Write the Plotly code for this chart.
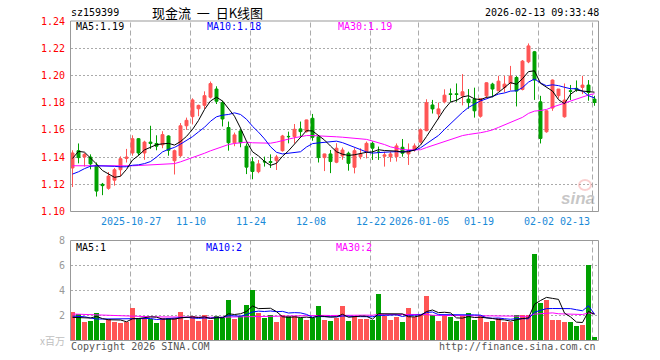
import plotly.graph_objects as go

# ---------------- data ----------------
dates = ([f"2025-10-{d:02d}" for d in (13, 14, 15, 16, 17, 20, 21, 22, 23, 24, 27, 28, 29, 30, 31)]
         + [f"2025-11-{d:02d}" for d in (3, 4, 5, 6, 7, 10, 11, 12, 13, 14, 17, 18, 19, 20, 21, 24, 25, 26, 27, 28)]
         + [f"2025-12-{d:02d}" for d in (1, 2, 3, 4, 5, 8, 9, 10, 11, 12, 15, 16, 17, 18, 19, 22, 23, 24, 25, 26, 29, 30, 31)]
         + [f"2026-01-{d:02d}" for d in (5, 6, 7, 8, 9, 12, 13, 14, 15, 16, 19, 20, 21, 22, 23, 26, 27, 28, 29, 30)]
         + [f"2026-02-{d:02d}" for d in (2, 3, 4, 5, 6, 9, 10, 11, 12, 13)])

open_ = [1.132, 1.1447, 1.140, 1.140, 1.134, 1.120, 1.117, 1.123, 1.1307, 1.139,
         1.143, 1.1535, 1.143, 1.151, 1.150, 1.149, 1.1555, 1.1373, 1.141, 1.163,
         1.1697, 1.1755, 1.178, 1.184, 1.190, 1.180, 1.1617, 1.1505, 1.1592, 1.148,
         1.1365, 1.1293, 1.1367, 1.1367, 1.1374, 1.1447, 1.1552, 1.155, 1.1607, 1.1587,
         1.1685, 1.155, 1.1396, 1.1423, 1.1362, 1.1408, 1.1428, 1.1325, 1.1403, 1.144,
         1.1501, 1.1437, 1.1406, 1.1403, 1.1403, 1.1472, 1.1423, 1.1452, 1.151, 1.1594,
         1.1783, 1.1717, 1.1806, 1.1865, 1.1865, 1.185, 1.1826, 1.1826, 1.170, 1.185,
         1.1936, 1.1887, 1.1912, 1.1941, 1.1985, 1.1897, 1.210, 1.2174, 1.1806, 1.1586,
         1.176, 1.1851, 1.1696, 1.1887, 1.1905, 1.1912, 1.1929, 1.1826]
high = [1.145, 1.150, 1.143, 1.142, 1.136, 1.121, 1.129, 1.132, 1.1405, 1.146,
        1.156, 1.154, 1.152, 1.163, 1.156, 1.159, 1.156, 1.1455, 1.165, 1.169,
        1.1832, 1.1785, 1.1883, 1.1955, 1.192, 1.1815, 1.1661, 1.158, 1.1607, 1.150,
        1.140, 1.1379, 1.1403, 1.142, 1.1416, 1.1563, 1.1587, 1.1643, 1.1661, 1.1675,
        1.1717, 1.1555, 1.1425, 1.1452, 1.1502, 1.147, 1.144, 1.1465, 1.1465, 1.1514,
        1.1514, 1.1477, 1.144, 1.144, 1.150, 1.1533, 1.150, 1.150, 1.161, 1.1825,
        1.182, 1.180, 1.1898, 1.1904, 1.1941, 1.201, 1.190, 1.191, 1.1834, 1.195,
        1.1946, 1.1997, 1.1997, 1.207, 1.1995, 1.2113, 1.2235, 1.218, 1.185, 1.1745,
        1.197, 1.190, 1.1941, 1.193, 1.1963, 1.1997, 1.1966, 1.185]
low = [1.118, 1.1354, 1.133, 1.131, 1.111, 1.112, 1.116, 1.119, 1.1258, 1.136,
       1.141, 1.141, 1.138, 1.146, 1.145, 1.1465, 1.141, 1.1272, 1.140, 1.160,
       1.164, 1.170, 1.1753, 1.183, 1.179, 1.1625, 1.1447, 1.148, 1.1472, 1.1275,
       1.1237, 1.1281, 1.133, 1.132, 1.1305, 1.144, 1.1501, 1.150, 1.155, 1.158,
       1.152, 1.136, 1.1297, 1.1282, 1.1355, 1.138, 1.130, 1.128, 1.1384, 1.139,
       1.1379, 1.1379, 1.133, 1.1365, 1.1367, 1.1403, 1.1342, 1.144, 1.150, 1.159,
       1.172, 1.1678, 1.1795, 1.1806, 1.1806, 1.178, 1.1755, 1.169, 1.169, 1.183,
       1.184, 1.1885, 1.1875, 1.189, 1.1772, 1.189, 1.209, 1.182, 1.150, 1.1579,
       1.174, 1.183, 1.169, 1.1819, 1.188, 1.1863, 1.1814, 1.1777]
close = [1.143, 1.1396, 1.142, 1.135, 1.115, 1.119, 1.126, 1.1307, 1.1388, 1.140,
         1.1535, 1.143, 1.151, 1.150, 1.148, 1.1565, 1.145, 1.1447, 1.163, 1.167,
         1.182, 1.178, 1.1851, 1.194, 1.181, 1.168, 1.1505, 1.1563, 1.1506, 1.1326,
         1.1294, 1.135, 1.1365, 1.136, 1.1401, 1.1555, 1.155, 1.1604, 1.1587, 1.1673,
         1.1545, 1.1396, 1.1423, 1.1367, 1.1465, 1.1452, 1.1354, 1.1447, 1.1423, 1.1501,
         1.1465, 1.1435, 1.1416, 1.1423, 1.1482, 1.1428, 1.1447, 1.1482, 1.160, 1.180,
         1.1754, 1.1754, 1.1855, 1.186, 1.186, 1.188, 1.180, 1.174, 1.183, 1.1946,
         1.190, 1.1958, 1.1936, 1.1995, 1.1885, 1.2105, 1.2217, 1.1966, 1.1537, 1.174,
         1.1966, 1.190, 1.1819, 1.1883, 1.1895, 1.1929, 1.1875, 1.1801]

ma5 = [1.1390, 1.1442, 1.1436, 1.1395, 1.1349, 1.1301, 1.1274, 1.1251, 1.1259, 1.1309,
       1.1378, 1.1412, 1.1453, 1.1475, 1.1491, 1.1497, 1.1501, 1.1488, 1.1514, 1.1552,
       1.1603, 1.1669, 1.1750, 1.1812, 1.1840, 1.1812, 1.1757, 1.1700, 1.1613, 1.1516,
       1.1439, 1.1408, 1.1368, 1.1339, 1.1354, 1.1406, 1.1446, 1.1494, 1.1539, 1.1594,
       1.1592, 1.1561, 1.1525, 1.1481, 1.1439, 1.1421, 1.1412, 1.1417, 1.1428, 1.1435,
       1.1438, 1.1454, 1.1448, 1.1448, 1.1444, 1.1437, 1.1439, 1.1452, 1.1488, 1.1551,
       1.1617, 1.1678, 1.1753, 1.1805, 1.1817, 1.1842, 1.1851, 1.1828, 1.1822, 1.1839,
       1.1843, 1.1875, 1.1914, 1.1947, 1.1935, 1.1976, 1.2028, 1.2034, 1.1942, 1.1913,
       1.1885, 1.1822, 1.1792, 1.1862, 1.1893, 1.1885, 1.1880, 1.1877]
ma10 = [1.1275, 1.1292, 1.1315, 1.1333, 1.1336, 1.1336, 1.1335, 1.1332, 1.1328, 1.1329,
        1.1340, 1.1343, 1.1352, 1.1367, 1.1400, 1.1438, 1.1457, 1.1471, 1.1495, 1.1522,
        1.1550, 1.1585, 1.1619, 1.1663, 1.1696, 1.1708, 1.1713, 1.1725, 1.1713, 1.1678,
        1.1626, 1.1583, 1.1534, 1.1476, 1.1435, 1.1423, 1.1427, 1.1431, 1.1439, 1.1474,
        1.1499, 1.1504, 1.1509, 1.1510, 1.1517, 1.1506, 1.1487, 1.1471, 1.1455, 1.1437,
        1.1429, 1.1433, 1.1433, 1.1438, 1.1440, 1.1437, 1.1447, 1.1450, 1.1468, 1.1498,
        1.1527, 1.1559, 1.1603, 1.1646, 1.1684, 1.1729, 1.1765, 1.1790, 1.1813, 1.1828,
        1.1843, 1.1863, 1.1871, 1.1885, 1.1887, 1.1910, 1.1951, 1.1974, 1.1945, 1.1924,
        1.1931, 1.1925, 1.1913, 1.1902, 1.1903, 1.1885, 1.1851, 1.1835]
ma30 = [1.1336, 1.1336, 1.1335, 1.1334, 1.1333, 1.1332, 1.1332, 1.1332, 1.1334, 1.1335,
        1.1336, 1.1338, 1.1340, 1.1342, 1.1344, 1.1345, 1.1347, 1.1352, 1.1365, 1.1380,
        1.1395, 1.1410, 1.1428, 1.1446, 1.1462, 1.1478, 1.1492, 1.1500, 1.1506, 1.1510,
        1.1505, 1.1504, 1.1502, 1.1502, 1.1510, 1.1523, 1.1532, 1.1542, 1.1549, 1.1558,
        1.1558, 1.1557, 1.1554, 1.1550, 1.1549, 1.1546, 1.1542, 1.1542, 1.1535, 1.1530,
        1.1518, 1.1506, 1.1492, 1.1475, 1.1464, 1.1455, 1.1453, 1.1451, 1.1454, 1.1470,
        1.1485, 1.1498, 1.1515, 1.1531, 1.1547, 1.1558, 1.1566, 1.1570, 1.1579, 1.1588,
        1.1600, 1.1618, 1.1635, 1.1656, 1.1670, 1.1692, 1.1721, 1.1738, 1.1742, 1.1750,
        1.1767, 1.1782, 1.1796, 1.1811, 1.1825, 1.1841, 1.1856, 1.1866]

volume = [2.28, 2.13, 1.47, 1.55, 2.20, 1.39, 1.71, 1.47, 1.42, 1.50,
          2.60, 1.80, 1.80, 1.74, 1.39, 1.80, 1.80, 1.80, 2.28, 1.63,
          1.95, 1.55, 2.03, 1.63, 1.95, 1.87, 3.24, 1.71, 1.95, 2.84,
          4.04, 2.20, 1.79, 2.03, 1.47, 2.03, 1.95, 1.95, 1.79, 1.63,
          1.79, 2.76, 1.63, 1.55, 1.79, 2.76, 1.55, 1.95, 1.71, 1.71,
          1.63, 3.72, 1.95, 1.63, 1.87, 1.47, 2.60, 1.87, 2.12, 3.56,
          2.03, 1.55, 2.03, 1.87, 1.55, 1.95, 2.20, 1.63, 1.95, 1.47,
          1.55, 1.79, 1.47, 1.47, 2.03, 2.03, 2.03, 6.93, 3.00, 3.24,
          1.63, 1.63, 1.47, 1.47, 1.15, 1.23, 6.05, 0.27]
vma5 = [1.85, 1.85, 1.80, 1.80, 1.93, 1.75, 1.66, 1.66, 1.64, 1.50,
        1.74, 1.76, 1.82, 1.89, 1.87, 1.71, 1.71, 1.71, 1.81, 1.86,
        1.89, 1.84, 1.89, 1.76, 1.82, 1.81, 2.14, 2.08, 2.14, 2.32,
        2.76, 2.55, 2.56, 2.58, 2.31, 1.90, 1.85, 1.89, 1.84, 1.87,
        1.82, 1.98, 1.92, 1.87, 1.90, 2.10, 1.86, 1.92, 1.95, 1.94,
        1.71, 2.14, 2.14, 2.13, 2.16, 2.13, 1.90, 1.89, 1.99, 2.32,
        2.44, 2.23, 2.26, 2.21, 1.81, 1.79, 1.92, 1.84, 1.86, 1.84,
        1.76, 1.68, 1.65, 1.55, 1.66, 1.76, 1.81, 2.90, 3.20, 3.45,
        3.37, 3.29, 2.19, 1.89, 1.47, 1.44, 2.33, 2.09]
vma10 = [1.95, 1.95, 1.90, 1.80, 1.72, 1.72, 1.72, 1.72, 1.72, 1.71,
         1.74, 1.71, 1.74, 1.76, 1.68, 1.72, 1.73, 1.77, 1.85, 1.86,
         1.80, 1.77, 1.80, 1.79, 1.84, 1.85, 1.99, 1.98, 1.95, 2.07,
         2.28, 2.35, 2.32, 2.36, 2.31, 2.33, 2.20, 2.23, 2.21, 2.09,
         1.86, 1.92, 1.90, 1.86, 1.89, 1.96, 1.92, 1.92, 1.91, 1.92,
         1.90, 2.00, 2.03, 2.04, 2.05, 1.92, 2.02, 2.02, 2.06, 2.24,
         2.28, 2.07, 2.07, 2.10, 2.07, 2.11, 2.07, 2.05, 2.03, 1.82,
         1.78, 1.80, 1.74, 1.70, 1.75, 1.76, 1.74, 2.27, 2.38, 2.55,
         2.56, 2.55, 2.55, 2.55, 2.46, 2.38, 2.78, 2.11]
vma30 = [2.12, 2.10, 2.08, 2.05, 2.02, 2.00, 1.98, 1.96, 1.95, 1.94,
         1.93, 1.92, 1.91, 1.90, 1.89, 1.88, 1.88, 1.87, 1.87, 1.87,
         1.86, 1.86, 1.86, 1.86, 1.86, 1.87, 1.87, 1.87, 1.88, 1.88,
         1.94, 1.94, 1.95, 1.97, 1.95, 1.97, 1.98, 1.99, 2.00, 2.01,
         1.98, 2.01, 2.01, 2.00, 2.01, 2.05, 2.04, 2.04, 2.02, 2.03,
         2.02, 2.09, 2.09, 2.09, 2.08, 2.07, 2.05, 2.05, 2.06, 2.08,
         2.02, 1.99, 2.00, 2.00, 2.00, 2.00, 2.01, 2.00, 2.00, 2.00,
         1.99, 1.95, 1.95, 1.95, 1.95, 1.93, 1.95, 2.11, 2.16, 2.21,
         2.21, 2.14, 2.12, 2.12, 2.09, 2.08, 2.20, 2.15]

price_ticks = [1.10, 1.12, 1.14, 1.16, 1.18, 1.20, 1.22, 1.24]
price_tick_text = ["1.10", "1.12", "1.14", "1.16", "1.18", "1.20", "1.22", "1.24"]
vol_ticks = [2, 4, 6, 8]
vol_tick_text = ["2", "4", "6", "8"]
x_tick_dates = ["2025-10-27", "2025-11-10", "2025-11-24", "2025-12-08", "2025-12-22",
                "2026-01-05", "2026-01-19", "2026-02-02", "2026-02-13"]
x_tick_text = ["2025-10-27", "11-10", "11-24", "12-08", "12-22",
               "2026-01-05", "01-19", "02-02", "02-13"]

# ---------------- styling ----------------
W, H = 660, 360
RED = "#ff5555"
GREEN = "#00a000"
BLUE_TXT = "#1a8ad8"
GRID = "#aaaaaa"
BORDER = "#999999"
MONO = "DejaVu Sans Mono"

X0, X1 = 70.5, 598.5          # plot-area pixel edges (left/right)
P_TOP, P_BOT = 21.0, 211.5    # price panel
V_TOP, V_BOT = 240.5, 340.5   # volume panel


def px(x):
    return x / W


def py(y):
    return 1 - y / H


n = len(dates)
xr = [-0.333, n - 0.333]

fig = go.Figure()

fig.add_trace(go.Candlestick(
    x=dates, open=open_, high=high, low=low, close=close,
    increasing=dict(line=dict(color=RED, width=1), fillcolor=RED),
    decreasing=dict(line=dict(color=GREEN, width=1), fillcolor=GREEN),
    whiskerwidth=0, hoverinfo="skip", xaxis="x", yaxis="y", showlegend=False))

for arr, col in ((ma30, "#ff00ff"), (ma10, "#0000ff"), (ma5, "#000000")):
    fig.add_trace(go.Scatter(x=dates, y=arr, mode="lines", line=dict(color=col, width=1),
                             hoverinfo="skip", xaxis="x", yaxis="y", showlegend=False))

vol_colors = [RED if c >= o else GREEN for o, c in zip(open_, close)]
fig.add_trace(go.Bar(x=dates, y=volume, marker=dict(color=vol_colors, line=dict(width=0)),
                     width=0.8, hoverinfo="skip", xaxis="x2", yaxis="y2", showlegend=False))
for arr, col in ((vma30, "#ff00ff"), (vma10, "#0000ff"), (vma5, "#000000")):
    fig.add_trace(go.Scatter(x=dates, y=arr, mode="lines", line=dict(color=col, width=1),
                             hoverinfo="skip", xaxis="x2", yaxis="y2", showlegend=False))

xcommon = dict(type="category", range=xr, showticklabels=False, showgrid=False,
               zeroline=False, showline=False, ticks="", fixedrange=True,
               domain=[px(X0), px(X1)])
fig.update_layout(
    width=W, height=H, margin=dict(l=0, r=0, t=0, b=0),
    paper_bgcolor="white", plot_bgcolor="white",
    font=dict(family=MONO, size=10, color="#000"),
    bargap=0, boxgap=0.3,
    xaxis=dict(**xcommon, anchor="y", rangeslider=dict(visible=False)),
    xaxis2=dict(**xcommon, anchor="y2"),
    yaxis=dict(domain=[py(P_BOT), py(P_TOP)], range=[price_ticks[0], price_ticks[-1]],
               tickmode="array", tickvals=price_ticks[1:-1], showticklabels=False,
               showgrid=True, gridcolor=GRID, griddash="2px,2px", gridwidth=1,
               zeroline=False, showline=False, ticks="", fixedrange=True),
    yaxis2=dict(domain=[py(V_BOT), py(V_TOP)], range=[0, 8],
                tickmode="array", tickvals=vol_ticks[:-1], showticklabels=False,
                showgrid=True, gridcolor=GRID, griddash="2px,2px", gridwidth=1,
                zeroline=False, showline=False, ticks="", fixedrange=True),
)

shapes = []
annotations = []
# vertical dashed grid lines at the tick dates, in both panels
for d in x_tick_dates:
    xi = dates.index(d) - 0.33
    for ref, y0, y1 in (("y", price_ticks[0], price_ticks[-1]), ("y2", 0, 8)):
        shapes.append(dict(type="line", xref="x" if ref == "y" else "x2", yref=ref,
                           x0=xi, x1=xi, y0=y0, y1=y1,
                           line=dict(color=GRID, width=1, dash="5px,3px"), layer="below"))
# panel borders
for top, bot in ((P_TOP, P_BOT), (V_TOP, V_BOT)):
    shapes.append(dict(type="rect", xref="paper", yref="paper",
                       x0=px(X0), x1=px(X1), y0=py(bot), y1=py(top),
                       line=dict(color=BORDER, width=1), fillcolor="rgba(0,0,0,0)", layer="above"))
# sina watermark eye
shapes.append(dict(type="circle", xref="paper", yref="paper",
                   x0=px(579), x1=px(591), y0=py(190), y1=py(180),
                   line=dict(color="rgba(240,120,120,0.35)", width=2), fillcolor="rgba(0,0,0,0)"))


def ann(text, x, y, xanchor="left", color="#000", size=10, family=MONO, xref="paper", yref="paper", **kw):
    annotations.append(dict(text=text, x=x, y=y, xref=xref, yref=yref, xanchor=xanchor,
                            yanchor="middle", showarrow=False,
                            font=dict(color=color, size=size, family=family, **kw)))


# header
ann("sz159399", px(69), py(13))
ann("现金流\u00a0\u00a0一\u00a0\u00a0日K线图", px(208), py(13), xanchor="center", size=13,
    family="Noto Sans CJK SC")
ann("2026-02-13 09:33:48", px(601), py(13), xanchor="right")
# price axis labels
for v, t in zip(price_ticks, price_tick_text):
    ann(t, px(67), v, xanchor="right", color="#ff0000", yref="y")
# MA labels
ann("MA5:1.19", px(74), py(27))
ann("MA10:1.18", px(205), py(27), color="#0000ff")
ann("MA30:1.19", px(336), py(27), color="#ff00ff")
# date labels
for d, t in zip(x_tick_dates, x_tick_text):
    xi = dates.index(d) - 0.33
    if d == x_tick_dates[-1]:
        ann(t, xi - 0.1, py(221), xanchor="right", color=BLUE_TXT, xref="x")
    else:
        ann(t, xi, py(221), xanchor="center", color=BLUE_TXT, xref="x")
# volume axis labels
for v, t in zip(vol_ticks, vol_tick_text):
    ann(t, px(67), v, xanchor="right", color="#999999", yref="y2")
ann("x百万", px(67), py(340), xanchor="right", color="#c0c0c0", size=10, family="Noto Sans CJK SC")
ann("MA5:1", px(74), py(247))
ann("MA10:2", px(204), py(247), color="#0000ff")
ann("MA30:2", px(334), py(247), color="#ff00ff")
# footer
ann("Copyright 2026 SINA.COM", px(69), py(346), color="#555555")
ann("http://finance.sina.com.cn", px(598), py(346), xanchor="right", color="#555555")
# watermark
ann("sina", px(597), py(198), xanchor="right", color="rgba(150,150,150,0.55)", size=17,
    family="Liberation Sans", style="italic", weight="bold")

fig.update_layout(shapes=shapes, annotations=annotations)

fig.write_html("out.html", config={"staticPlot": True},
               post_script="document.body.style.margin='0';")
